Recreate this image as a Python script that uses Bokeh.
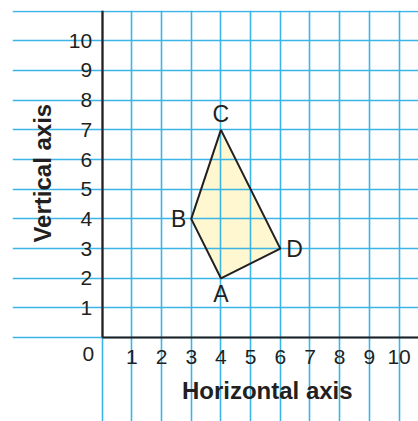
from bokeh.plotting import figure
from bokeh.models import (Range1d, LinearAxis, Grid, SingleIntervalTicker, FixedTicker, Label)
from bokeh.core.properties import value
from bokeh.embed import file_html
from bokeh.resources import INLINE
import math

# ---- data ----
point_names = ["A", "B", "C", "D"]
point_x = [4, 3, 4, 6]
point_y = [2, 4, 7, 3]
x_tick_labels = ["1", "2", "3", "4", "5", "6", "7", "8", "9", "10"]
x_tick_values = [1, 2, 3, 4, 5, 6, 7, 8, 9, 10]
y_tick_labels = ["1", "2", "3", "4", "5", "6", "7", "8", "9", "10"]
y_tick_values = [1, 2, 3, 4, 5, 6, 7, 8, 9, 10]
zero_label = ["0"]
x_title = "Horizontal axis"
y_title = "Vertical axis"

GRID = "#3bb4e6"
INK = "#231f20"
FONT = "Liberation Sans"

UNIT = 29.69
FW, FH = 406, 411
x0 = -3.02
x1 = x0 + FW / UNIT
y1 = 11.02
y0 = y1 - FH / UNIT

p = figure(frame_width=FW, frame_height=FH, x_range=Range1d(x0, x1), y_range=Range1d(y0, y1),
           x_axis_type=None, y_axis_type=None, toolbar_location=None, output_backend="svg",
           min_border_left=12, min_border_top=10, min_border_right=0, min_border_bottom=0)
p.outline_line_color = None
p.background_fill_color = "white"
p.border_fill_color = "white"

# grid
for dim in (0, 1):
    g = Grid(dimension=dim, ticker=SingleIntervalTicker(interval=1),
             grid_line_color=GRID, grid_line_width=1.6, level="glyph")
    p.add_layout(g)

# axes through the origin
def style_axis(ax):
    ax.ticker = FixedTicker(ticks=[])
    ax.major_tick_in = 0
    ax.major_tick_out = 0
    ax.minor_tick_in = 0
    ax.minor_tick_out = 0
    ax.major_label_standoff = 0
    ax.axis_line_color = INK
    ax.axis_line_width = 2.2

xa = LinearAxis(fixed_location=0, bounds=(0, x1))
style_axis(xa)
p.add_layout(xa, "below")
ya = LinearAxis(fixed_location=0, bounds=(0, y1))
style_axis(ya)
p.add_layout(ya, "left")

# polygon
p.patch(x=point_x, y=point_y, fill_color="#fef7d0", line_color=None)
p.patch(x=point_x, y=point_y, fill_color=None, line_color=INK, line_width=2, level="annotation")

# point labels
offs = {"A": (0, 16, "center"), "B": (-5, 0, "right"), "C": (0, -16, "center"), "D": (6, 0, "left")}
for n, xv, yv in zip(point_names, point_x, point_y):
    dx, dy, al = offs[n]
    p.text(x=[xv], y=[yv], text=[n], x_offset=dx, y_offset=dy, text_align=al,
           text_baseline="middle", text_font=value(FONT), text_font_size="23px",
           text_color=INK, level="annotation")

# tick labels
p.text(x=x_tick_values, y=[0] * len(x_tick_values), text=x_tick_labels, y_offset=19,
       text_align="center", text_baseline="middle", text_font=value(FONT),
       text_font_size="21px", text_color=INK, level="annotation")
p.text(x=[0] * len(y_tick_values), y=y_tick_values, text=y_tick_labels, x_offset=-10,
       text_align="right", text_baseline="middle", text_font=value(FONT),
       text_font_size="21px", text_color=INK, level="annotation")
p.text(x=[0], y=[0], text=zero_label, x_offset=-8, y_offset=16,
       text_align="right", text_baseline="middle", text_font=value(FONT),
       text_font_size="21px", text_color=INK, level="annotation")

# axis titles
p.add_layout(Label(x=5.56, y=-1.77, text=x_title, text_align="center", text_baseline="middle",
                   text_font=FONT, text_font_size="24px", text_font_style="bold", text_color=INK))
p.add_layout(Label(x=-2.02, y=5.54, text=y_title, angle=math.pi / 2, text_align="center",
                   text_baseline="middle", text_font=FONT, text_font_size="24px",
                   text_font_style="bold", text_color=INK))

open("out.html", "w").write(file_html(p, INLINE))
